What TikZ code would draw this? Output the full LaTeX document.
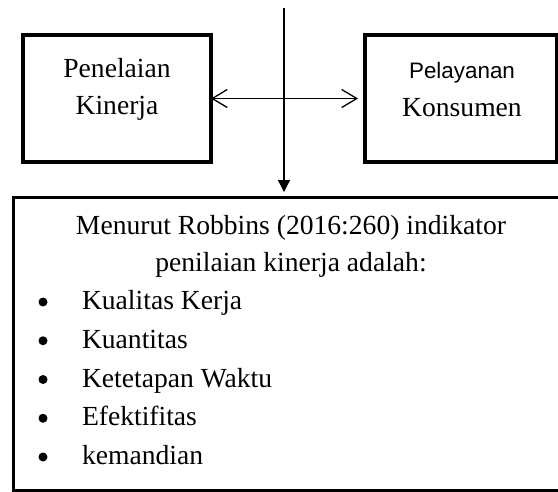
\documentclass[tikz,border=0pt]{standalone}
\usepackage{fontspec}
\setmainfont{Liberation Serif}
\newfontfamily\sansfam{Liberation Sans}
\usetikzlibrary{arrows.meta}

\begin{document}
\begin{tikzpicture}[x=1pt,y=-1pt,
  every node/.style={inner sep=0pt,outer sep=0pt,font=\fontsize{27.6}{33}\selectfont},
  frame/.style={draw,rectangle,line width=4pt},
  txt/.style={anchor=base},
  dotmark/.style={circle,fill,minimum size=9pt},
  arr/.style={line width=1.3pt}]
\useasboundingbox (0,0) rectangle (558,491);
\clip (0,0) rectangle (558,491);
% boxes
\node[frame,minimum width=188pt,minimum height=127pt] (pk) at (117,98.5) {};
\node[frame,minimum width=192pt,minimum height=127pt] (pl) at (461,98.5) {};
\node[rectangle,minimum width=640pt,minimum height=293.5pt] (ind) at (333,343.75) {};
\draw[line width=3pt] (ind.north east) -- (ind.north west) -- (ind.south west) -- (ind.south east);
% box texts
\node[txt] (pk1) at (117,77) {Penelaian};
\node[txt] (pk2) at (117,114) {Kinerja};
\node[txt,font=\sansfam\fontsize{22.4}{27}\selectfont] (pl1) at (462,78) {Pelayanan};
\node[txt] (pl2) at (462,116) {Konsumen};
\node[txt] (head1) at (291,234) {Menurut Robbins (2016:260) indikator};
\node[txt] (head2) at (291,271) {penilaian kinerja adalah:};
\foreach \ind [count=\i] in {Kualitas Kerja,Kuantitas,Ketetapan Waktu,Efektifitas,kemandian}{
  \node[dotmark] (dot\i) at (43,{302+38.75*(\i-1)}) {};
  \node[txt,anchor=base west] (it\i) at (82,{309.5+38.75*(\i-1)}) {\ind};
}
% connectors
\coordinate (src) at (284,8);
\draw[arr,-{Triangle[length=12pt,width=12pt]},shorten >=5pt] (src) -- (src |- ind.north);
\draw[arr,{Straight Barb[length=15pt,width=18pt]}-{Straight Barb[length=15pt,width=18pt]},shorten >=7pt] (pk.east) -- (pk.east -| pl.west);
\end{tikzpicture}
\end{document}
